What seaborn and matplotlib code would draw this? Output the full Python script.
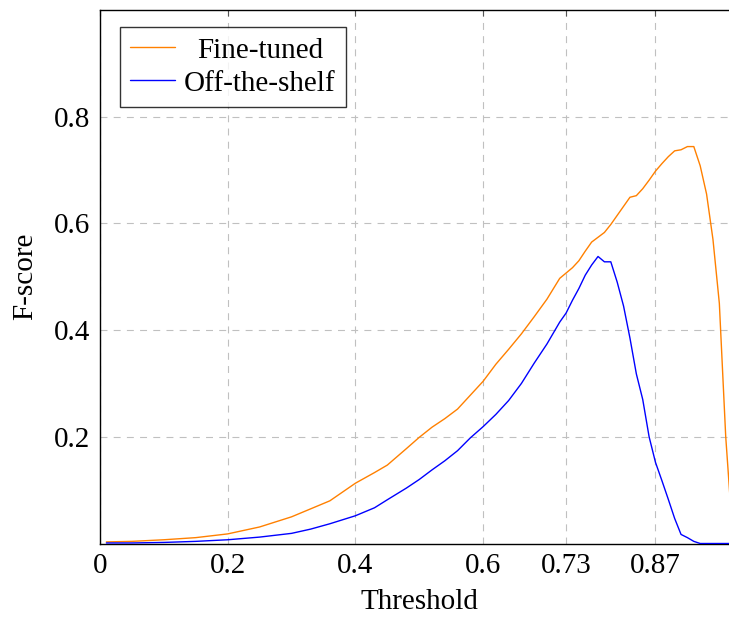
import matplotlib
matplotlib.use("Agg")
import matplotlib.pyplot as plt
import seaborn as sns
import pandas as pd

thresholds = [0.01, 0.05, 0.1, 0.15, 0.2, 0.25, 0.3, 0.33, 0.36, 0.4, 0.43, 0.45, 0.48, 0.5,
              0.52, 0.54, 0.56, 0.58, 0.6, 0.62, 0.64, 0.66, 0.68, 0.7, 0.72, 0.73, 0.74,
              0.75, 0.76, 0.77, 0.78, 0.79, 0.8, 0.81, 0.82, 0.83, 0.84, 0.85, 0.86, 0.87,
              0.88, 0.89, 0.9, 0.91, 0.92, 0.93, 0.94, 0.95, 0.96, 0.97, 0.98, 0.99, 1.0]
fine_tuned = [0.003, 0.004, 0.007, 0.011, 0.018, 0.031, 0.05, 0.065, 0.08, 0.113, 0.133,
              0.147, 0.178, 0.199, 0.218, 0.234, 0.252, 0.278, 0.304, 0.336, 0.364, 0.393,
              0.425, 0.458, 0.497, 0.507, 0.517, 0.53, 0.548, 0.565, 0.574, 0.583, 0.598,
              0.615, 0.632, 0.649, 0.652, 0.665, 0.681, 0.698, 0.712, 0.725, 0.736, 0.738,
              0.744, 0.744, 0.708, 0.655, 0.57, 0.45, 0.2, 0.03, 0.0]
off_the_shelf = [0.001, 0.001, 0.002, 0.004, 0.007, 0.012, 0.019, 0.027, 0.037, 0.052, 0.067,
                 0.082, 0.104, 0.12, 0.138, 0.155, 0.174, 0.198, 0.219, 0.242, 0.268, 0.3,
                 0.338, 0.374, 0.415, 0.432, 0.456, 0.478, 0.503, 0.522, 0.538, 0.528, 0.528,
                 0.49, 0.445, 0.385, 0.318, 0.27, 0.2, 0.152, 0.118, 0.083, 0.047, 0.017,
                 0.011, 0.004, 0.0, 0.0, 0.0, 0.0, 0.0, 0.0, 0.0]
series_names = ["Fine-tuned", "Off-the-shelf"]
series_colors = ["#ff8000", "#0000ff"]
xticks = [0, 0.2, 0.4, 0.6, 0.73, 0.87]
xtick_labels = ["0", "0.2", "0.4", "0.6", "0.73", "0.87"]
yticks = [0.2, 0.4, 0.6, 0.8]
ytick_labels = ["0.2", "0.4", "0.6", "0.8"]

df = pd.concat([
    pd.DataFrame({"Threshold": thresholds, "F-score": fine_tuned, "Model": series_names[0]}),
    pd.DataFrame({"Threshold": thresholds, "F-score": off_the_shelf, "Model": series_names[1]}),
])

sns.set_style("white")
plt.rcParams["font.family"] = ["Liberation Serif", "DejaVu Serif"]
plt.rcParams["lines.scale_dashes"] = False
plt.rcParams["text.color"] = "black"
plt.rcParams["axes.labelcolor"] = "black"
plt.rcParams["xtick.labelcolor"] = "black"
plt.rcParams["ytick.labelcolor"] = "black"

FS = 21

fig = plt.figure(figsize=(7.29, 6.18), dpi=100)
ax = fig.add_axes([100 / 729, (618 - 543.5) / 618, 638.5 / 729, 533.5 / 618])

sns.lineplot(data=df, x="Threshold", y="F-score", hue="Model", hue_order=series_names,
             palette=series_colors, linewidth=1.0, ax=ax, legend=True, zorder=3)

ax.set_xlim(0, 1.0)
ax.set_ylim(0, 1.0)
ax.set_xticks(xticks)
ax.set_xticklabels(xtick_labels)
ax.set_yticks(yticks)
ax.set_yticklabels(ytick_labels)
ax.grid(True, color="#c0c0c0", linestyle=(0, (5, 4.5)), linewidth=0.8, zorder=0)
ax.tick_params(axis="both", direction="in", length=4, width=0.8, color="#555555",
               labelsize=FS, labelcolor="black", top=True, right=True)
ax.tick_params(axis="x", pad=7)
ax.tick_params(axis="y", pad=7)
for s in ax.spines.values():
    s.set_color("black")
    s.set_linewidth(1.0)

ax.set_xlabel("Threshold", fontsize=FS, labelpad=7, color="black")
ax.set_ylabel("F-score", fontsize=FS, labelpad=11, color="black")

leg = ax.legend(loc="upper left", bbox_to_anchor=(0.031, 0.968), borderaxespad=0,
                fontsize=FS, frameon=True, fancybox=False, edgecolor="black",
                handlelength=1.55, handletextpad=0.3, borderpad=0.35, labelspacing=0.22)
leg.get_frame().set_linewidth(1.0)
for line in leg.get_lines():
    line.set_linewidth(1.0)

fig.canvas.draw()
r = fig.canvas.get_renderer()
texts = leg.get_texts()
widths = [t.get_window_extent(r).width for t in texts]
max_w = max(widths)
for t, w in zip(texts, widths):
    t.set_position(((max_w - w) / 2, 0))

fig.savefig("out.png", dpi=100)
